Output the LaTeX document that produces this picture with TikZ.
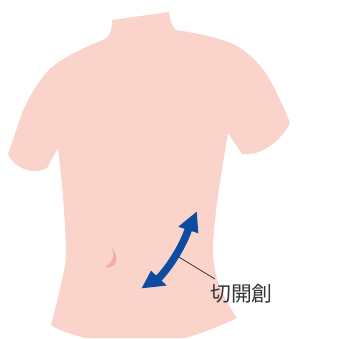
\documentclass[tikz,border=0pt]{standalone}
\usepackage{fontspec}
\newfontfamily\jpfont{Noto Sans CJK JP}
\definecolor{skin}{HTML}{FAD3CA}
\definecolor{navelpink}{HTML}{F2AEA4}
\definecolor{incisionblue}{HTML}{0D4CA0}
\definecolor{labelgray}{HTML}{333333}
\tikzset{
  torso/.style={fill=skin},
  navel/.style={fill=navelpink},
  incision/.style={draw=incisionblue, line width=7.5pt},
  incisionhead/.style={fill=incisionblue},
  leader/.style={draw=black!85, line width=0.7pt},
  caption/.style={font=\jpfont\fontsize{20.8}{21}\selectfont, text=labelgray, inner sep=0pt}
}
\begin{document}
\begin{tikzpicture}[x=1pt, y=-1pt]
\useasboundingbox (0,0) rectangle (351,338);

% torso silhouette
\path[torso] (112,20) -- (169,12)
  .. controls (170,21) and (172,27) .. (176,30)
  .. controls (195,33) and (215,37) .. (228,42)
  .. controls (245,48) and (262,65) .. (270,80)
  .. controls (278,95) and (285,110) .. (290,123)
  .. controls (284,136) and (264,157) .. (242,154)
  -- (228,133)
  .. controls (220,180) and (213,225) .. (213,250)
  .. controls (213,280) and (225,300) .. (237,318)
  .. controls (220,326) and (200,334) .. (185,338)
  -- (85,338)
  .. controls (70,334) and (58,330) .. (51,325)
  .. controls (56,305) and (63,280) .. (66,258)
  .. controls (66,230) and (63,190) .. (58,148)
  -- (47,168)
  .. controls (36,175) and (15,170) .. (8,154)
  .. controls (13,140) and (18,125) .. (22,113)
  .. controls (30,95) and (40,78) .. (52,67)
  .. controls (65,56) and (90,45) .. (105,39)
  .. controls (110,36) and (112,30) .. (112,20) -- cycle;

% navel
\path[navel] (112,248)
  .. controls (117,255) and (118,262) .. (114,265.5)
  .. controls (111,267.5) and (108,267.5) .. (104.5,267.5)
  .. controls (110,264) and (113,260) .. (113.3,256)
  .. controls (113.4,253) and (112.8,250) .. (112,248) -- cycle;

% curved double arrow marking the incision
\draw[incision] (188.5,229) .. controls (182.9,246.1) and (168.9,268.1) .. (158.2,278.8);
\path[incisionhead] (196.7,211.7) -- (198.3,233.3) -- (178.3,226.7) -- cycle;
\path[incisionhead] (141.7,288.3) -- (151,270.7) -- (166.7,285.5) -- cycle;

% label and leader line
\node[caption] (label) at (241.5,294) {切開創};
\coordinate (cut) at (178.3,256.7);
\coordinate (leadend) at (215,279);
\draw[leader] (cut) -- (leadend);
\end{tikzpicture}
\end{document}
